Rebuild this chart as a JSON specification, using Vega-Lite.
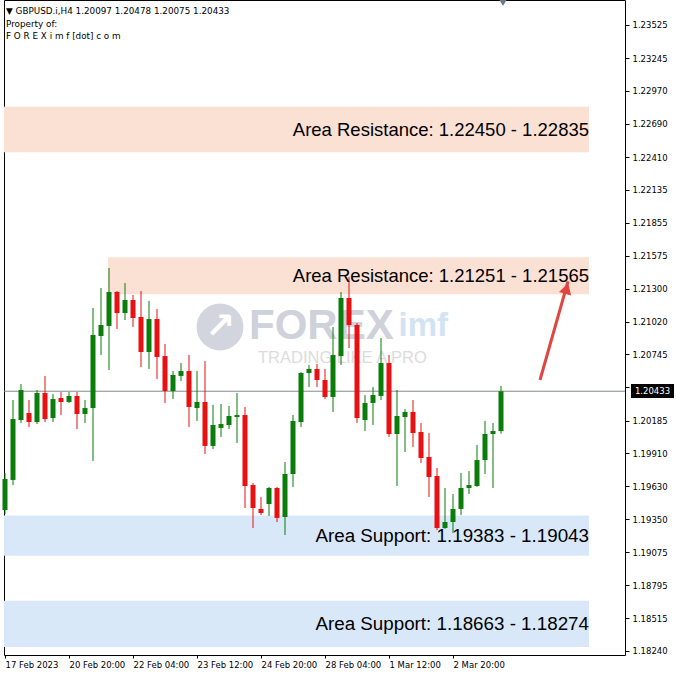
{
  "$schema": "https://vega.github.io/schema/vega-lite/v6.json",
  "width": 621,
  "height": 655,
  "autosize": {"type": "none"},
  "padding": {"left": 4, "top": 0, "right": 51, "bottom": 22},
  "background": "#ffffff",
  "config": {
    "view": {"stroke": "#000000", "strokeWidth": 1},
    "font": "DejaVu Sans",
    "axis": {"grid": false, "domain": false, "tickColor": "#000000", "labelColor": "#000000", "labelFontSize": 8.5, "labelFont": "DejaVu Sans", "labelOverlap": false}
  },
  "datasets": {
    "candles": [
      {"i":1,"o":1.19430,"h":1.19743,"l":1.19396,"c":1.19692},
      {"i":2,"o":1.19684,"h":1.20359,"l":1.19641,"c":1.20198},
      {"i":3,"o":1.20190,"h":1.20494,"l":1.20165,"c":1.20443},
      {"i":4,"o":1.20249,"h":1.20359,"l":1.20131,"c":1.20173},
      {"i":5,"o":1.20173,"h":1.20443,"l":1.20156,"c":1.20418},
      {"i":6,"o":1.20418,"h":1.20562,"l":1.20173,"c":1.20198},
      {"i":7,"o":1.20207,"h":1.20410,"l":1.20173,"c":1.20367},
      {"i":8,"o":1.20376,"h":1.20426,"l":1.20232,"c":1.20342},
      {"i":9,"o":1.20342,"h":1.20426,"l":1.20334,"c":1.20393},
      {"i":10,"o":1.20393,"h":1.20426,"l":1.20114,"c":1.20241},
      {"i":11,"o":1.20241,"h":1.20359,"l":1.20165,"c":1.20291},
      {"i":12,"o":1.20291,"h":1.21136,"l":1.19844,"c":1.20908},
      {"i":13,"o":1.20899,"h":1.21305,"l":1.20739,"c":1.20992},
      {"i":14,"o":1.20984,"h":1.21473,"l":1.20612,"c":1.21271},
      {"i":15,"o":1.21271,"h":1.21279,"l":1.20958,"c":1.21093},
      {"i":16,"o":1.21093,"h":1.21347,"l":1.21034,"c":1.21203},
      {"i":17,"o":1.21203,"h":1.21245,"l":1.20975,"c":1.21051},
      {"i":18,"o":1.21060,"h":1.21279,"l":1.20637,"c":1.20764},
      {"i":19,"o":1.20764,"h":1.21195,"l":1.20621,"c":1.21043},
      {"i":20,"o":1.21043,"h":1.21127,"l":1.20536,"c":1.20722},
      {"i":21,"o":1.20730,"h":1.20832,"l":1.20334,"c":1.20435},
      {"i":22,"o":1.20435,"h":1.20604,"l":1.20367,"c":1.20570},
      {"i":23,"o":1.20562,"h":1.20671,"l":1.20519,"c":1.20604},
      {"i":24,"o":1.20604,"h":1.20739,"l":1.20131,"c":1.20300},
      {"i":25,"o":1.20291,"h":1.20604,"l":1.20182,"c":1.20342},
      {"i":26,"o":1.20342,"h":1.20688,"l":1.19903,"c":1.19971},
      {"i":27,"o":1.19971,"h":1.20317,"l":1.19945,"c":1.20148},
      {"i":28,"o":1.20123,"h":1.20325,"l":1.20047,"c":1.20156},
      {"i":29,"o":1.20148,"h":1.20308,"l":1.20114,"c":1.20224},
      {"i":30,"o":1.20215,"h":1.20418,"l":1.19996,"c":1.20232},
      {"i":31,"o":1.20232,"h":1.20300,"l":1.19447,"c":1.19633},
      {"i":32,"o":1.19641,"h":1.19658,"l":1.19278,"c":1.19447},
      {"i":33,"o":1.19439,"h":1.19540,"l":1.19388,"c":1.19405},
      {"i":34,"o":1.19481,"h":1.19625,"l":1.19380,"c":1.19616},
      {"i":35,"o":1.19616,"h":1.19625,"l":1.19329,"c":1.19363},
      {"i":36,"o":1.19371,"h":1.19835,"l":1.19219,"c":1.19734},
      {"i":37,"o":1.19734,"h":1.20232,"l":1.19624,"c":1.20182},
      {"i":38,"o":1.20173,"h":1.20595,"l":1.20131,"c":1.20587},
      {"i":39,"o":1.20587,"h":1.20654,"l":1.20469,"c":1.20621},
      {"i":40,"o":1.20621,"h":1.20663,"l":1.20469,"c":1.20528},
      {"i":41,"o":1.20528,"h":1.20621,"l":1.20367,"c":1.20384},
      {"i":42,"o":1.20384,"h":1.20975,"l":1.20258,"c":1.20739},
      {"i":43,"o":1.20730,"h":1.21271,"l":1.20654,"c":1.21220},
      {"i":44,"o":1.21220,"h":1.21397,"l":1.20798,"c":1.20992},
      {"i":45,"o":1.20992,"h":1.21009,"l":1.20165,"c":1.20207},
      {"i":46,"o":1.20190,"h":1.20401,"l":1.20097,"c":1.20334},
      {"i":47,"o":1.20334,"h":1.20469,"l":1.20148,"c":1.20401},
      {"i":48,"o":1.20393,"h":1.20882,"l":1.20359,"c":1.20671},
      {"i":49,"o":1.20671,"h":1.20739,"l":1.20047,"c":1.20072},
      {"i":50,"o":1.20072,"h":1.20443,"l":1.19633,"c":1.20224},
      {"i":51,"o":1.20215,"h":1.20283,"l":1.19920,"c":1.20258},
      {"i":52,"o":1.20258,"h":1.20359,"l":1.19962,"c":1.20080},
      {"i":53,"o":1.20089,"h":1.20165,"l":1.19827,"c":1.19869},
      {"i":54,"o":1.19878,"h":1.20080,"l":1.19540,"c":1.19709},
      {"i":55,"o":1.19717,"h":1.19785,"l":1.19261,"c":1.19278},
      {"i":56,"o":1.19278,"h":1.19616,"l":1.19270,"c":1.19329},
      {"i":57,"o":1.19329,"h":1.19565,"l":1.19236,"c":1.19439},
      {"i":58,"o":1.19439,"h":1.19743,"l":1.19388,"c":1.19616},
      {"i":59,"o":1.19616,"h":1.19759,"l":1.19565,"c":1.19641},
      {"i":60,"o":1.19633,"h":1.19979,"l":1.19625,"c":1.19852},
      {"i":61,"o":1.19852,"h":1.20182,"l":1.19734,"c":1.20072},
      {"i":62,"o":1.20072,"h":1.20165,"l":1.19616,"c":1.20097},
      {"i":63,"o":1.20097,"h":1.20478,"l":1.20075,"c":1.20433}
    ],
    "resZones": [
      {"i0":0.875,"i1":74,"lo":1.22450,"hi":1.22835,"mid":1.226425,"label":"Area Resistance: 1.22450 - 1.22835"},
      {"i0":13.875,"i1":74,"lo":1.21251,"hi":1.21565,"mid":1.21408,"label":"Area Resistance: 1.21251 - 1.21565"}
    ],
    "supZones": [
      {"i0":0.875,"i1":74,"lo":1.19043,"hi":1.19383,"mid":1.19213,"label":"Area Support: 1.19383 - 1.19043"},
      {"i0":0.875,"i1":74,"lo":1.18274,"hi":1.18663,"mid":1.184685,"label":"Area Support: 1.18663 - 1.18274"}
    ],
    "header": [
      {"x":1.125,"y":1.23643,"t":"▼ GBPUSD.i,H4  1.20097 1.20478 1.20075 1.20433"},
      {"x":1.125,"y":1.23533,"t":"Property of:"},
      {"x":1.125,"y":1.23432,"t":"F O R E X i m f [dot] c o m"}
    ],
    "arrow": [
      {"x":67.875,"y":1.20528},
      {"x":71.375,"y":1.21360}
    ]
  },
  "layer": [
    {
      "data": {"name": "resZones"},
      "mark": {"type": "rect", "color": "#fbe0d4"},
      "encoding": {
        "x": {"field": "i0", "type": "quantitative", "title": null, "scale": {"domain": [0.875, 78.5], "nice": false, "zero": false, "padding": 0},
          "axis": {"values": [1, 9, 17, 25, 33, 41, 49, 57], "tickCount": 40, "labelAlign": "left", "labelBaseline": "top", "tickSize": 3, "labelPadding": 2, "labelOffset": 0, "title": null,
            "labelExpr": "datum.value == 1 ? '17 Feb 2023' : datum.value == 9 ? '20 Feb 20:00' : datum.value == 17 ? '22 Feb 04:00' : datum.value == 25 ? '23 Feb 12:00' : datum.value == 33 ? '24 Feb 20:00' : datum.value == 41 ? '28 Feb 04:00' : datum.value == 49 ? '1 Mar 12:00' : '2 Mar 20:00'"}},
        "x2": {"field": "i1"},
        "y": {"field": "lo", "type": "quantitative", "title": null, "scale": {"domain": [1.18206, 1.23736], "nice": false, "zero": false, "padding": 0},
          "axis": {"orient": "right", "title": null, "tickCount": 40, "values": [1.23525, 1.23245, 1.2297, 1.2269, 1.2241, 1.22135, 1.21855, 1.21575, 1.213, 1.2102, 1.20745, 1.20465, 1.20185, 1.1991, 1.1963, 1.1935, 1.19075, 1.18795, 1.18515, 1.1824], "format": ".5f", "tickSize": 4, "labelPadding": 3, "labelBaseline": "middle"}},
        "y2": {"field": "hi"}
      }
    },
    {
      "data": {"name": "supZones"},
      "mark": {"type": "rect", "color": "#d9e8f8"},
      "encoding": {
        "x": {"field": "i0", "type": "quantitative", "title": null},
        "x2": {"field": "i1"},
        "y": {"field": "lo", "type": "quantitative", "title": null},
        "y2": {"field": "hi"}
      }
    },
    {
      "data": {"values": [{"x": 27.875, "y": 1.20975}]},
      "mark": {"type": "point", "shape": "circle", "filled": true, "size": 2200, "color": "#d3d5de", "opacity": 1},
      "encoding": {
        "x": {"field": "x", "type": "quantitative", "title": null},
        "y": {"field": "y", "type": "quantitative", "title": null}
      }
    },
    {
      "data": {"values": [{"x": 27.9, "y": 1.20975, "t": "↗"}]},
      "mark": {"type": "text", "font": "DejaVu Sans", "fontSize": 36, "fontWeight": "bold", "color": "#ffffff", "align": "center", "baseline": "middle"},
      "encoding": {
        "x": {"field": "x", "type": "quantitative", "title": null},
        "y": {"field": "y", "type": "quantitative", "title": null},
        "text": {"field": "t"}
      }
    },
    {
      "data": {"values": [{"x": 31.5, "y": 1.20985, "t": "FOREX"}]},
      "mark": {"type": "text", "font": "Liberation Sans", "fontSize": 42, "fontWeight": "bold", "color": "#cfd1db", "align": "left", "baseline": "middle"},
      "encoding": {
        "x": {"field": "x", "type": "quantitative", "title": null},
        "y": {"field": "y", "type": "quantitative", "title": null},
        "text": {"field": "t"}
      }
    },
    {
      "data": {"values": [{"x": 50.2, "y": 1.20985, "t": "imf"}]},
      "mark": {"type": "text", "font": "Liberation Sans", "fontSize": 33, "fontWeight": "bold", "color": "#d3e3f2", "align": "left", "baseline": "middle"},
      "encoding": {
        "x": {"field": "x", "type": "quantitative", "title": null},
        "y": {"field": "y", "type": "quantitative", "title": null},
        "text": {"field": "t"}
      }
    },
    {
      "data": {"values": [{"x": 32.625, "y": 1.20714, "t": "TRADING LIKE A PRO"}]},
      "mark": {"type": "text", "font": "Liberation Sans", "fontSize": 16.5, "color": "#dcdcdc", "align": "left", "baseline": "middle"},
      "encoding": {
        "x": {"field": "x", "type": "quantitative", "title": null},
        "y": {"field": "y", "type": "quantitative", "title": null},
        "text": {"field": "t"}
      }
    },
    {
      "data": {"values": [{"p": 1.20433}]},
      "mark": {"type": "rule", "color": "#7f8a8f", "strokeWidth": 1},
      "encoding": {
        "y": {"field": "p", "type": "quantitative", "title": null}
      }
    },
    {
      "data": {"name": "candles"},
      "mark": {"type": "rule", "strokeWidth": 1},
      "encoding": {
        "x": {"field": "i", "type": "quantitative", "title": null},
        "y": {"field": "l", "type": "quantitative", "title": null},
        "y2": {"field": "h"},
        "color": {"condition": {"test": "datum.c >= datum.o", "value": "#0b7d0b"}, "value": "#e81010"}
      }
    },
    {
      "data": {"name": "candles"},
      "mark": {"type": "bar", "size": 5},
      "encoding": {
        "x": {"field": "i", "type": "quantitative", "title": null},
        "y": {"field": "o", "type": "quantitative", "title": null},
        "y2": {"field": "c"},
        "color": {"condition": {"test": "datum.c >= datum.o", "value": "#0b7d0b"}, "value": "#e81010"}
      }
    },
    {
      "data": {"name": "resZones"},
      "mark": {"type": "text", "font": "Liberation Sans", "fontSize": 18.5, "color": "#000000", "align": "right", "baseline": "middle"},
      "encoding": {
        "x": {"field": "i1", "type": "quantitative", "title": null},
        "y": {"field": "mid", "type": "quantitative", "title": null},
        "text": {"field": "label"}
      }
    },
    {
      "data": {"name": "supZones"},
      "mark": {"type": "text", "font": "Liberation Sans", "fontSize": 18.8, "color": "#000000", "align": "right", "baseline": "middle"},
      "encoding": {
        "x": {"field": "i1", "type": "quantitative", "title": null},
        "y": {"field": "mid", "type": "quantitative", "title": null},
        "text": {"field": "label"}
      }
    },
    {
      "data": {"name": "arrow"},
      "mark": {"type": "line", "color": "#e0453f", "strokeWidth": 3},
      "encoding": {
        "x": {"field": "x", "type": "quantitative", "title": null},
        "y": {"field": "y", "type": "quantitative", "title": null}
      }
    },
    {
      "data": {"values": [{"x": 71.2, "y": 1.21300}]},
      "mark": {"type": "point", "shape": "triangle-up", "filled": true, "size": 160, "angle": 16, "color": "#e0453f", "opacity": 1},
      "encoding": {
        "x": {"field": "x", "type": "quantitative", "title": null},
        "y": {"field": "y", "type": "quantitative", "title": null}
      }
    },
    {
      "data": {"name": "header"},
      "mark": {"type": "text", "font": "DejaVu Sans", "fontSize": 8.8, "color": "#000000", "align": "left", "baseline": "middle"},
      "encoding": {
        "x": {"field": "x", "type": "quantitative", "title": null},
        "y": {"field": "y", "type": "quantitative", "title": null},
        "text": {"field": "t"}
      }
    },
    {
      "data": {"values": [{"x": 63.25, "y": 1.23713}]},
      "mark": {"type": "point", "shape": "triangle-down", "filled": true, "size": 60, "color": "#6b7b8c", "opacity": 1},
      "encoding": {
        "x": {"field": "x", "type": "quantitative", "title": null},
        "y": {"field": "y", "type": "quantitative", "title": null}
      }
    },
    {
      "data": {"values": [{"x0": 79.25, "x1": 84.625, "y0": 1.20376, "y1": 1.20494}]},
      "mark": {"type": "rect", "color": "#000000"},
      "encoding": {
        "x": {"field": "x0", "type": "quantitative", "title": null},
        "x2": {"field": "x1"},
        "y": {"field": "y0", "type": "quantitative", "title": null},
        "y2": {"field": "y1"}
      }
    },
    {
      "data": {"values": [{"x": 81.94, "y": 1.20435, "t": "1.20433"}]},
      "mark": {"type": "text", "font": "DejaVu Sans", "fontSize": 8.5, "color": "#ffffff", "align": "center", "baseline": "middle"},
      "encoding": {
        "x": {"field": "x", "type": "quantitative", "title": null},
        "y": {"field": "y", "type": "quantitative", "title": null},
        "text": {"field": "t"}
      }
    }
  ]
}
